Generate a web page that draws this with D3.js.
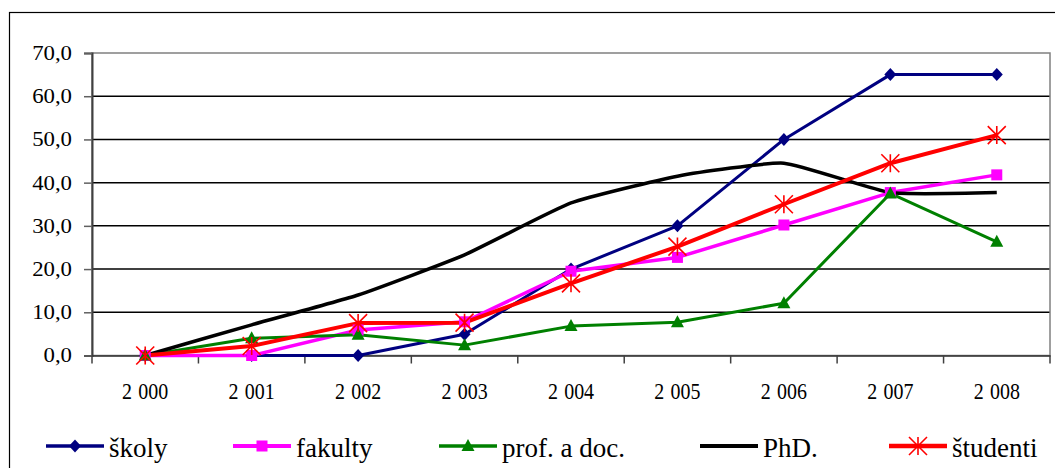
<!DOCTYPE html>
<html>
<head>
<meta charset="utf-8">
<script src="https://cdn.jsdelivr.net/npm/d3@7"></script>
<style>
  body { margin: 0; background: #fff; }
  svg { display: block; }
  svg text { font-family: "Liberation Serif", "Times New Roman", serif; fill: #000; }
</style>
</head>
<body>
<div id="chart"></div>
<script>
  // data
  var years = ["2 000", "2 001", "2 002", "2 003", "2 004", "2 005", "2 006", "2 007", "2 008"];
  var skoly    = [0, 0, 0, 4.9, 20.0, 30.0, 50.0, 65.0, 65.0];
  var fakulty  = [0, 0, 5.9, 7.8, 19.5, 22.7, 30.2, 37.7, 41.8];
  var profDoc  = [0, 4.0, 4.8, 2.4, 6.8, 7.7, 12.1, 37.5, 26.3];
  var phd      = [0, 7.1, 14.0, 23.3, 35.3, 41.5, 44.5, 37.7, 37.7];
  var studenti = [0, 2.2, 7.5, 7.6, 16.7, 25.2, 35.0, 44.5, 51.0];
  var yTicks = [0, 10, 20, 30, 40, 50, 60, 70];

  var W = 1055, H = 468;
  var plot = { left: 92, right: 1050, top: 53, bottom: 355.5 };

  var series = [
    { name: "školy",        values: skoly,    color: "#000080", width: 3,   marker: "diamond" },
    { name: "fakulty",      values: fakulty,  color: "#ff00ff", width: 3.5, marker: "square" },
    { name: "prof. a doc.", values: profDoc,  color: "#008000", width: 3,   marker: "triangle" },
    { name: "PhD.",         values: phd,      color: "#000000", width: 3.5, marker: "none", smooth: true },
    { name: "študenti",     values: studenti, color: "#ff0000", width: 4,   marker: "star" }
  ];

  var svg = d3.select("#chart").append("svg")
    .attr("width", W)
    .attr("height", H);

  // outer chart frame (runs off the right and bottom of the picture)
  svg.append("rect")
    .attr("x", 9.5).attr("y", 12.5)
    .attr("width", 1100).attr("height", 500)
    .attr("fill", "none").attr("stroke", "#000").attr("stroke-width", 1.2);

  var x = d3.scaleBand()
    .domain(years)
    .range([plot.left, plot.right])
    .paddingInner(0).paddingOuter(0);

  var y = d3.scaleLinear()
    .domain([0, 70])
    .range([plot.bottom, plot.top]);

  function cx(i) { return x(years[i]) + x.bandwidth() / 2; }

  // gridlines
  svg.append("g").selectAll("line")
    .data(yTicks.filter(function(d) { return d > 0 && d < 70; }))
    .enter().append("line")
    .attr("x1", plot.left).attr("x2", plot.right)
    .attr("y1", function(d) { return y(d); })
    .attr("y2", function(d) { return y(d); })
    .attr("stroke", "#000").attr("stroke-width", 1.5);

  // plot area border
  svg.append("rect")
    .attr("x", plot.left).attr("y", plot.top)
    .attr("width", plot.right - plot.left)
    .attr("height", plot.bottom - plot.top)
    .attr("fill", "none").attr("stroke", "#808080").attr("stroke-width", 1.5);

  // y axis
  var yAxis = svg.append("g")
    .attr("transform", "translate(" + plot.left + ",0)")
    .call(d3.axisLeft(y).tickValues(yTicks).tickSize(8).tickPadding(12)
      .tickFormat(function(d) { return d.toFixed(1).replace(".", ","); }));
  yAxis.attr("font-family", null);
  yAxis.select(".domain").attr("stroke", "#404040").attr("stroke-width", 2);
  yAxis.selectAll(".tick line").attr("stroke", "#606060").attr("stroke-width", 1.5);
  yAxis.selectAll(".tick text")
    .attr("font-size", 20)
    .style("font-family", "'Liberation Serif', serif")
    .attr("x", -20 / 1.14).attr("dy", "0.32em")
    .attr("transform", "scale(1.14,1)");

  // x axis
  var xAxis = svg.append("g")
    .attr("transform", "translate(0," + plot.bottom + ")")
    .call(d3.axisBottom(x).tickSize(0).tickPadding(0));
  xAxis.select(".domain").attr("stroke", "#303030").attr("stroke-width", 1.5);
  xAxis.selectAll(".tick text").remove();

  // ticks between categories
  svg.append("g").selectAll("line")
    .data(d3.range(years.length + 1))
    .enter().append("line")
    .attr("x1", function(i) { return plot.left + i * x.bandwidth(); })
    .attr("x2", function(i) { return plot.left + i * x.bandwidth(); })
    .attr("y1", plot.bottom).attr("y2", plot.bottom + 8)
    .attr("stroke", "#404040").attr("stroke-width", 1.5);

  svg.append("g").selectAll("text")
    .data(years)
    .enter().append("text")
    .attr("transform", function(d, i) { return "translate(" + cx(i) + ",399) scale(0.85,1)"; })
    .attr("text-anchor", "middle")
    .attr("font-size", 23.5)
    .attr("word-spacing", 1.5)
    .style("font-family", "'Liberation Serif', serif")
    .text(function(d) { return d; });

  // lines
  var lineGen = d3.line()
    .x(function(d, i) { return cx(i); })
    .y(function(d) { return y(d); });

  series.forEach(function(s) {
    lineGen.curve(s.smooth ? d3.curveCardinal.tension(0.55) : d3.curveLinear);
    svg.append("path")
      .datum(s.values)
      .attr("d", lineGen)
      .attr("fill", "none")
      .attr("stroke", s.color)
      .attr("stroke-width", s.width)
      .attr("stroke-linejoin", "round");
  });

  function drawMarker(g, type, color, px, py) {
    if (type === "diamond") {
      g.append("path")
        .attr("d", "M" + px + "," + (py - 6.5) + "L" + (px + 6) + "," + py + "L" + px + "," + (py + 6.5) + "L" + (px - 6) + "," + py + "Z")
        .attr("fill", color);
    } else if (type === "square") {
      g.append("rect")
        .attr("x", px - 5.5).attr("y", py - 5.5)
        .attr("width", 11).attr("height", 11)
        .attr("fill", color);
    } else if (type === "triangle") {
      g.append("path")
        .attr("d", "M" + px + "," + (py - 7) + "L" + (px + 6.5) + "," + (py + 5) + "L" + (px - 6.5) + "," + (py + 5) + "Z")
        .attr("fill", color);
    } else if (type === "star") {
      var r = 9;
      g.append("path")
        .attr("d", "M" + px + "," + (py - r) + "V" + (py + r) +
          "M" + (px - r) + "," + (py - r) + "L" + (px + r) + "," + (py + r) +
          "M" + (px + r) + "," + (py - r) + "L" + (px - r) + "," + (py + r))
        .attr("fill", "none")
        .attr("stroke", color)
        .attr("stroke-width", 1.6);
    }
  }

  // markers on top of all lines
  series.forEach(function(s) {
    var g = svg.append("g");
    s.values.forEach(function(v, i) {
      drawMarker(g, s.marker, s.color, cx(i), y(v));
    });
  });

  // legend
  var legendX = [46, 233, 439, 700, 889];
  var legendY = 446;
  series.forEach(function(s, i) {
    var g = svg.append("g").attr("transform", "translate(" + legendX[i] + "," + legendY + ")");
    g.append("line")
      .attr("x1", 0).attr("x2", 58)
      .attr("y1", 0).attr("y2", 0)
      .attr("stroke", s.color)
      .attr("stroke-width", s.width + 0.5);
    drawMarker(g, s.marker, s.color, 29, 0);
    g.append("text")
      .attr("x", 63).attr("y", 11)
      .attr("font-size", 27)
      .text(s.name);
  });
</script>
</body>
</html>
